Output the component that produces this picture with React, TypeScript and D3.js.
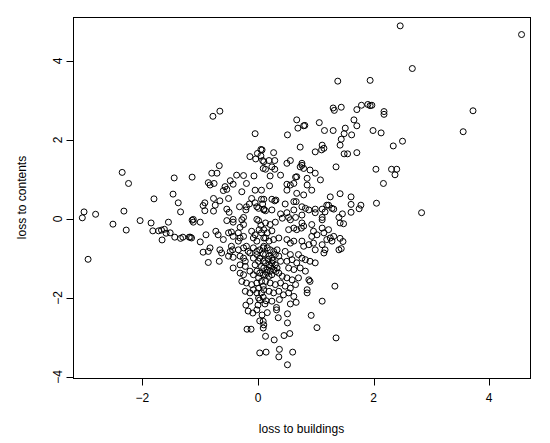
import React from "react";
import * as d3 from "d3";

// [loss to buildings, loss to contents]
const lossPairs: [number, number][] = [
  // upper region
  [2.46, 4.89], [4.56, 4.67], [2.67, 3.81], [1.38, 3.49], [1.94, 3.51],
  [1.30, 2.81], [1.32, 2.75], [1.44, 2.83], [1.71, 2.77], [1.79, 2.88],
  [1.90, 2.90], [1.94, 2.87], [1.97, 2.88], [2.18, 2.72], [2.18, 2.65],
  [3.72, 2.74], [0.81, 2.37], [1.06, 2.44], [1.15, 2.24], [1.30, 2.24],
  [1.51, 2.30], [1.49, 2.16], [1.66, 2.51], [1.71, 2.36], [1.62, 2.13],
  [1.44, 2.02], [1.99, 2.24], [2.13, 2.18], [3.55, 2.21],
  [-0.78, 2.60], [-0.66, 2.73], [-0.05, 2.16], [0.67, 2.51], [0.79, 2.36],
  [0.69, 2.30], [0.51, 2.13],
  // left region
  [-2.35, 1.18], [-2.24, 0.90], [-1.45, 1.04], [-1.14, 1.06], [-1.47, 0.63],
  [-1.80, 0.51], [-1.38, 0.41], [-1.34, 0.18], [-3.01, 0.18], [-3.04, 0.03],
  [-2.81, 0.12], [-2.32, 0.20], [-2.51, -0.13], [-2.28, -0.28], [-2.04, -0.04],
  [-1.85, -0.10], [-1.55, -0.08], [-1.14, -0.03], [-1.82, -0.30], [-1.72, -0.30],
  [-1.67, -0.28], [-1.62, -0.26], [-1.59, -0.36], [-1.52, -0.35], [-1.66, -0.53],
  [-1.44, -0.46], [-1.34, -0.49], [-1.30, -0.46], [-1.19, -0.46], [-1.17, -0.46],
  [-2.94, -1.02],
  // right region
  [2.50, 1.97], [2.34, 1.85], [1.49, 1.65], [1.55, 1.65], [1.71, 1.68],
  [2.04, 1.26], [2.31, 1.26], [2.40, 1.26], [2.37, 1.12], [2.17, 0.90],
  [1.42, 0.64], [1.61, 0.56], [1.61, 0.37], [1.78, 0.35], [1.75, 0.26],
  [2.05, 0.40], [1.61, 0.17], [2.83, 0.16], [1.46, 0.13], [1.48, -0.12],
  [1.47, -0.57], [1.44, -0.75], [1.42, -0.49],
  // centre-left upper
  [0.05, 1.76], [-0.01, 1.66], [0.05, 1.60], [-0.14, 1.58], [-0.04, 1.52],
  [0.08, 1.48], [0.09, 1.28], [-0.67, 1.35], [-0.80, 1.16], [-0.71, 1.16],
  [-0.37, 1.11], [-0.25, 1.10], [-0.07, 1.09], [-0.86, 0.92], [-0.76, 0.90],
  [-0.83, 0.86], [-0.48, 0.97], [-0.43, 0.88], [-0.57, 0.82], [-0.54, 0.75],
  [-0.60, 0.72], [-0.20, 0.90], [-0.28, 0.69], [-0.05, 0.73], [0.06, 0.73],
  [-0.77, 0.52], [-0.66, 0.46], [-0.51, 0.52], [-0.92, 0.41], [-0.95, 0.34],
  [-0.92, 0.21], [-0.74, 0.35], [-0.77, 0.20], [-0.54, 0.25], [-0.50, 0.17],
  [-0.32, 0.31], [-0.15, 0.38], [-0.20, 0.31], [-0.21, 0.23], [-0.05, 0.41],
  [-0.02, 0.31], [-0.11, 0.52], [0.06, 0.50], [0.08, 0.38], [0.01, 0.27],
  [0.10, 0.23], [-1.12, -0.01], [-0.43, -0.01], [-0.25, 0.04], [-0.02, -0.01],
  // centre-right upper
  [0.73, 1.82], [1.11, 1.87], [1.14, 1.79], [1.10, 1.75], [1.42, 1.87],
  [0.99, 1.70], [0.27, 1.68], [0.07, 1.75], [0.19, 1.48], [0.29, 1.48],
  [0.10, 1.45], [0.50, 1.41], [0.56, 1.48], [0.76, 1.41], [0.73, 1.32],
  [0.79, 1.28], [0.76, 1.36], [0.13, 1.26], [0.24, 1.32], [0.29, 1.26],
  [0.90, 1.24], [0.99, 1.16], [1.35, 1.32], [0.21, 1.09], [0.39, 1.11],
  [0.65, 1.06], [0.67, 1.07], [0.85, 1.03], [1.08, 0.99], [0.50, 0.88],
  [0.56, 0.86], [0.62, 0.90], [0.20, 0.84], [0.50, 0.73], [0.85, 0.86],
  [0.93, 0.73], [0.67, 0.65], [0.79, 0.61], [0.10, 0.50], [0.24, 0.50],
  [0.29, 0.46], [0.31, 0.48], [1.25, 0.56], [0.62, 0.44], [0.66, 0.44],
  [0.47, 0.38], [1.19, 0.35], [1.22, 0.35], [1.28, 0.27], [1.31, 0.25],
  [1.11, 0.25], [0.76, 0.31], [0.82, 0.27], [0.62, 0.23], [0.24, 0.23],
  [0.10, 0.25], [0.13, 0.21], [0.39, 0.13], [0.50, 0.16], [0.99, 0.25],
  [0.99, 0.16], [0.88, 0.23], [1.16, 0.18], [0.76, 0.10], [0.65, 0.04],
  [0.53, 0.04], [0.42, 0.02], [1.11, 0.04], [1.40, 0.04],
  // centre-left lower
  [-1.12, -0.08], [-1.00, -0.08], [-0.54, -0.04], [-0.43, -0.08], [-0.28, -0.02],
  [-0.25, -0.14], [-0.31, -0.21], [0.01, -0.04], [0.05, -0.16], [0.02, -0.27],
  [-1.15, -0.48], [-0.90, -0.40], [-0.73, -0.31], [-0.69, -0.40], [-0.60, -0.52],
  [-0.51, -0.35], [-0.46, -0.33], [-0.43, -0.44], [-0.34, -0.35], [-0.31, -0.48],
  [-0.34, -0.56], [-0.25, -0.44], [-0.11, -0.31], [-0.05, -0.40], [-0.08, -0.48],
  [-0.02, -0.56], [0.06, -0.35], [0.10, -0.48], [-1.00, -0.58], [-0.95, -0.84],
  [-0.86, -0.82], [-0.83, -0.73], [-0.66, -0.78], [-0.63, -0.86], [-0.48, -0.82],
  [-0.44, -0.78], [-0.46, -0.69], [-0.34, -0.78], [-0.25, -0.73], [-0.20, -0.69],
  [-0.17, -0.82], [-0.08, -0.73], [-0.02, -0.82], [0.03, -0.78], [0.09, -0.73],
  [-0.86, -1.10], [-0.67, -1.07], [-0.51, -0.94], [-0.43, -0.97], [-0.31, -0.94],
  [-0.25, -0.99], [-0.22, -1.07], [-0.31, -1.16], [-0.22, -1.20], [-0.14, -0.86],
  [-0.08, -0.99], [-0.02, -0.90], [0.03, -0.99], [0.09, -0.89], [0.01, -1.07],
  [0.09, -1.07], [-0.05, -1.16], [0.06, -1.20], [-0.43, -1.24], [-0.31, -1.37],
  [-0.25, -1.41], [-0.14, -1.32], [-0.08, -1.41], [-0.02, -1.32], [0.03, -1.37],
  [0.09, -1.41], [0.01, -1.49], [-0.28, -1.58], [-0.20, -1.62], [-0.11, -1.66],
  [-0.02, -1.62], [0.06, -1.58], [0.09, -1.70], [0.01, -1.75], [-0.08, -1.79],
  [-0.22, -1.83], [-0.14, -1.87], [-0.02, -1.87], [0.06, -1.87], [0.09, -1.98],
  [0.01, -2.00],
  // centre-right lower
  [0.13, -0.10], [0.21, -0.14], [0.30, -0.08], [0.10, -0.27], [0.16, -0.35],
  [0.24, -0.30], [0.56, -0.02], [0.53, -0.27], [0.62, -0.23], [0.67, -0.27],
  [0.76, -0.10], [0.79, -0.18], [0.75, -0.23], [0.93, -0.14], [0.96, -0.31],
  [1.02, -0.40], [0.93, -0.44], [1.11, -0.02], [1.11, -0.23], [1.22, -0.27],
  [1.14, -0.35], [1.42, -0.10], [1.31, -0.44], [1.19, -0.52], [1.25, -0.48],
  [1.28, -0.56], [1.40, -0.78], [0.13, -0.48], [0.19, -0.56], [0.27, -0.52],
  [0.36, -0.48], [0.50, -0.52], [0.56, -0.61], [0.62, -0.56], [0.76, -0.56],
  [0.79, -0.69], [0.88, -0.65], [0.96, -0.61], [0.99, -0.78], [1.11, -0.65],
  [1.16, -0.78], [1.14, -0.86],
  [0.10, -0.69], [0.16, -0.73], [0.21, -0.78], [0.27, -0.82], [0.33, -0.78],
  [0.13, -0.90], [0.19, -0.94], [0.24, -0.99], [0.30, -0.90], [0.36, -0.94],
  [0.39, -1.07], [0.13, -1.11], [0.19, -1.16], [0.24, -1.11], [0.30, -1.16],
  [0.10, -1.24], [0.16, -1.28], [0.21, -1.32], [0.27, -1.28], [0.33, -1.24],
  [0.13, -1.41], [0.19, -1.45], [0.24, -1.41], [0.36, -1.37],
  [0.18, -1.02], [0.22, -1.20], [0.26, -1.05], [0.15, -1.35], [0.31, -1.33],
  [0.47, -0.82], [0.56, -0.90], [0.59, -1.03], [0.50, -1.07], [0.70, -0.90],
  [0.76, -0.99], [0.82, -1.03], [0.67, -1.11], [0.90, -1.07], [0.99, -1.11],
  [0.53, -1.24], [0.62, -1.28], [0.73, -1.24], [0.82, -1.32], [0.42, -1.45],
  [0.50, -1.49], [0.59, -1.54], [0.70, -1.49], [0.88, -1.54], [0.90, -1.58],
  [0.13, -1.58], [0.21, -1.62], [0.30, -1.66], [0.39, -1.62], [0.47, -1.70],
  [0.56, -1.75], [0.65, -1.66], [0.10, -1.79], [0.19, -1.83], [0.27, -1.87],
  [0.36, -1.83], [0.44, -1.92], [0.53, -1.87], [0.62, -1.96], [0.85, -1.79],
  [0.85, -1.87], [1.33, -1.70],
  // bottom region
  [-0.21, -2.18], [-0.14, -2.08], [-0.17, -2.33], [-0.09, -2.38], [-0.02, -2.30],
  [0.00, -2.18], [0.03, -2.05], [0.07, -2.43], [0.03, -2.58], [-0.19, -2.79],
  [-0.12, -2.79], [0.03, -3.39],
  [1.11, -2.08], [0.92, -2.44], [1.02, -2.75], [1.35, -3.01], [0.66, -2.11],
  [0.56, -2.15], [0.51, -2.40], [0.51, -2.63], [0.35, -2.50], [0.32, -2.24],
  [0.32, -2.30], [0.37, -2.04], [0.24, -2.08], [0.16, -2.37], [0.12, -2.15],
  [0.14, -2.07], [0.09, -2.59], [0.10, -2.68], [0.09, -2.76], [0.13, -2.97],
  [0.55, -2.90], [0.45, -2.95], [0.28, -3.06], [0.60, -3.37], [0.37, -3.30],
  [0.36, -3.49], [0.14, -3.37], [0.51, -3.69],
];

const xTicks = [-2, 0, 2, 4];
const yTicks = [-4, -2, 0, 2, 4];
const xTitle = "loss to buildings";
const yTitle = "loss to contents";

export default function App() {
  const left = 73, right = 530, top = 17, bottom = 378;
  const x = d3.scaleLinear().domain([-3.201, 4.706]).range([left, right]);
  const y = d3.scaleLinear().domain([-4.025, 5.114]).range([bottom, top]);
  const font = "'Liberation Sans', Arial, Helvetica, sans-serif";
  return (
    <svg width={550} height={443} style={{ position: "absolute", left: 0, top: 0, background: "#fff" }}>
      <rect x={0} y={0} width={550} height={443} fill="#fff" />
      <g fill="none" stroke="#000" strokeWidth={1}>
        {lossPairs.map((d, i) => (
          <circle key={i} cx={x(d[0])} cy={y(d[1])} r={3} />
        ))}
      </g>
      <rect x={left + 0.5} y={top + 0.5} width={right - left} height={bottom - top} fill="none" stroke="#000" strokeWidth={1} />
      <g stroke="#000" strokeWidth={1}>
        <line x1={Math.round(x(xTicks[0])) + 0.5} x2={Math.round(x(xTicks[xTicks.length - 1])) + 0.5} y1={bottom + 0.5} y2={bottom + 0.5} />
        {xTicks.map((t) => (
          <line key={t} x1={Math.round(x(t)) + 0.5} x2={Math.round(x(t)) + 0.5} y1={bottom + 0.5} y2={bottom + 7.5} />
        ))}
        <line y1={Math.round(y(yTicks[0])) + 0.5} y2={Math.round(y(yTicks[yTicks.length - 1])) + 0.5} x1={left + 0.5} x2={left + 0.5} />
        {yTicks.map((t) => (
          <line key={t} y1={Math.round(y(t)) + 0.5} y2={Math.round(y(t)) + 0.5} x1={left + 0.5} x2={left - 6.5} />
        ))}
      </g>
      <g fontFamily={font} fontSize={12} fill="#000">
        {xTicks.map((t) => (
          <text key={t} x={x(t)} y={402} textAnchor="middle">{t === 0 ? "0" : t < 0 ? `\u2212${-t}` : `${t}`}</text>
        ))}
        {yTicks.map((t) => (
          <text key={t} transform={`translate(${62},${y(t)}) rotate(-90)`} textAnchor="middle">{t === 0 ? "0" : t < 0 ? `\u2212${-t}` : `${t}`}</text>
        ))}
        <text x={(left + right) / 2} y={433} textAnchor="middle">{xTitle}</text>
        <text transform={`translate(${26},${(top + bottom) / 2}) rotate(-90)`} textAnchor="middle">{yTitle}</text>
      </g>
    </svg>
  );
}
